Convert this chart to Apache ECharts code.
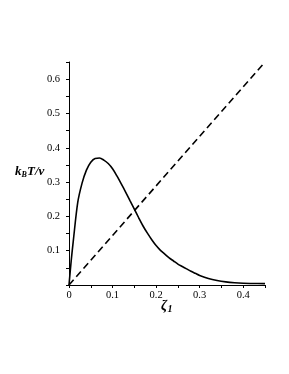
<!DOCTYPE html>
<html><head><meta charset="utf-8">
<script src="https://cdn.jsdelivr.net/npm/echarts@6/dist/echarts.min.js"></script>
<style>html,body{margin:0;padding:0;background:#fff}#c{width:289px;height:374px}</style>
</head><body><div id="c"></div>
<script>
const zeta = [0, 0.005, 0.01, 0.02, 0.03, 0.04, 0.05, 0.06, 0.07, 0.08, 0.09, 0.10, 0.11, 0.12, 0.13, 0.14, 0.15, 0.16, 0.17, 0.18, 0.19, 0.20, 0.21, 0.22, 0.23, 0.24, 0.25, 0.26, 0.27, 0.28, 0.29, 0.30, 0.32, 0.34, 0.36, 0.38, 0.40, 0.42, 0.45];
const kT = [0, 0.07, 0.13, 0.24, 0.297, 0.335, 0.358, 0.369, 0.370, 0.364, 0.354, 0.339, 0.318, 0.295, 0.271, 0.246, 0.221, 0.196, 0.172, 0.151, 0.132, 0.115, 0.101, 0.090, 0.079, 0.070, 0.061, 0.054, 0.047, 0.040, 0.034, 0.028, 0.019, 0.013, 0.009, 0.0065, 0.005, 0.0045, 0.004];
const lineX = [0, 0.45];
const lineY = [0, 0.65];
const xTicks = [0, 0.1, 0.2, 0.3, 0.4];
const yTicks = [0.1, 0.2, 0.3, 0.4, 0.5, 0.6];

const serif = '"Liberation Serif", "DejaVu Serif", serif';
function fmt(list) {
  return function (v) {
    for (const t of list) if (Math.abs(v - t) < 1e-6) return String(t);
    return '';
  };
}
const chart = echarts.init(document.getElementById('c'));
chart.setOption({
  animation: false,
  backgroundColor: '#fff',
  grid: {left: 69, right: 24, top: 62, bottom: 89},
  xAxis: {
    type: 'value', min: 0, max: 0.45, interval: 0.05,
    axisLine: {show: true, lineStyle: {color: '#000', width: 1}},
    axisTick: {show: true, length: 3, inside: false, lineStyle: {color: '#000'}},
    axisLabel: {formatter: fmt(xTicks), color: '#000', fontFamily: serif, fontSize: 10.5, margin: 5},
    splitLine: {show: false}
  },
  yAxis: {
    type: 'value', min: 0, max: 0.65, interval: 0.05,
    axisLine: {show: true, onZero: false, lineStyle: {color: '#000', width: 1}},
    axisTick: {show: true, length: 3, lineStyle: {color: '#000'}},
    axisLabel: {formatter: fmt(yTicks), color: '#000', fontFamily: serif, fontSize: 10.5, margin: 9},
    splitLine: {show: false}
  },
  series: [
    {
      type: 'line', data: zeta.map((x, i) => [x, kT[i]]), smooth: 0.3,
      symbol: 'none', lineStyle: {color: '#000', width: 1.6}
    },
    {
      type: 'line', data: lineX.map((x, i) => [x, lineY[i]]),
      symbol: 'none', lineStyle: {color: '#000', width: 1.6, type: [7, 4]}
    }
  ],
  graphic: [
    {type: 'text', left: 15, top: 165, style: {text: 'k', font: 'italic bold 13px ' + serif, fill: '#000'}},
    {type: 'text', left: 21.5, top: 171, style: {text: 'B', font: 'italic bold 8px ' + serif, fill: '#000'}},
    {type: 'text', left: 27, top: 165, style: {text: 'T/ν', font: 'italic bold 13px ' + serif, fill: '#000'}},
    {type: 'text', left: 161, top: 299, style: {text: 'ζ', font: 'italic bold 14px ' + serif, fill: '#000'}},
    {type: 'text', left: 167.5, top: 304, style: {text: '1', font: 'italic bold 10px ' + serif, fill: '#000'}}
  ]
});
</script></body></html>
